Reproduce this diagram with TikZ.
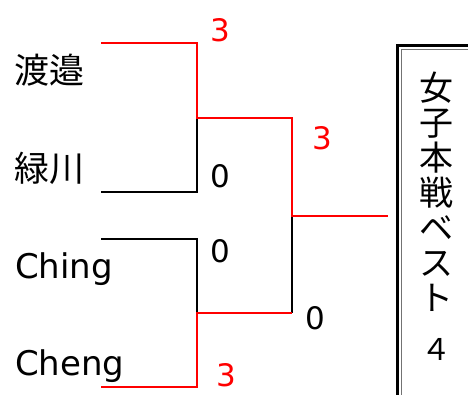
\documentclass[tikz,border=0pt]{standalone}
\usepackage{fontspec}
\setmainfont{DejaVu Sans}
\newfontfamily\cjk{Noto Sans CJK JP}
\begin{document}
\begin{tikzpicture}[x=1pt,y=-1pt,
  win/.style={draw=red,line width=2.3pt,line join=miter},
  lose/.style={draw=black,line width=2.3pt,line join=miter},
  jname/.style={font=\cjk\fontsize{35}{35}\selectfont,anchor=west,inner sep=0pt},
  lname/.style={font=\fontsize{34}{34}\selectfont,anchor=base west,inner sep=0pt},
  scorew/.style={font=\fontsize{31}{31}\selectfont,text=red,inner sep=0pt},
  scorel/.style={font=\fontsize{31}{31}\selectfont,text=black,inner sep=0pt}]
\useasboundingbox (0,0) rectangle (468,395);
\clip (0,0) rectangle (468,395);
% names
\node[jname] (n1) at (14,70) {渡邉};
\node[jname] (n2) at (14,168) {緑川};
\node[lname] (n3) at (15,278) {Ching};
\node[lname] (n4) at (15,375) {Cheng};
% bracket points
\coordinate (a1) at (101,43);
\coordinate (a2) at (197,43);
\coordinate (am) at (197,118);
\coordinate (b2) at (197,192);
\coordinate (b1) at (101,192);
\coordinate (c1) at (101,239);
\coordinate (c2) at (197,239);
\coordinate (cm) at (197,313);
\coordinate (d2) at (197,387);
\coordinate (d1) at (101,387);
\coordinate (f1) at (292,118);
\coordinate (fm) at (292,216);
\coordinate (f2) at (292,313);
\coordinate (fe) at (388,216);
% lines
\draw[lose] (am) -- (b2) -- (b1);
\draw[lose] (c1) -- (c2) -- (cm);
\draw[lose] (fm) -- (f2);
\draw[win] (a1) -- (a2) -- (am) -- (f1) -- (fm) -- (fe);
\draw[win] (d1) -- (d2) -- (cm) -- (f2);
% scores
\node[scorew] (s1) at (220,30) {3};
\node[scorel] (s2) at (220,176) {0};
\node[scorel] (s3) at (220,251) {0};
\node[scorew] (s4) at (226,375) {3};
\node[scorew] (s5) at (322,138) {3};
\node[scorel] (s6) at (315,318) {0};
% box
\draw[line width=3pt,black] (397.5,45.5) rectangle (490,420);
\draw[line width=1.2pt,black!55] (401.5,49.5) rectangle (490,420);
\node[font=\cjk\fontsize{34}{35}\selectfont,align=center,inner sep=0pt,anchor=north] (title) at (436,72)
  {女\\子\\本\\戦\\ベ\\ス\\ト\\[15pt]{\fontsize{30}{30}\selectfont ４}};
\end{tikzpicture}
\end{document}
